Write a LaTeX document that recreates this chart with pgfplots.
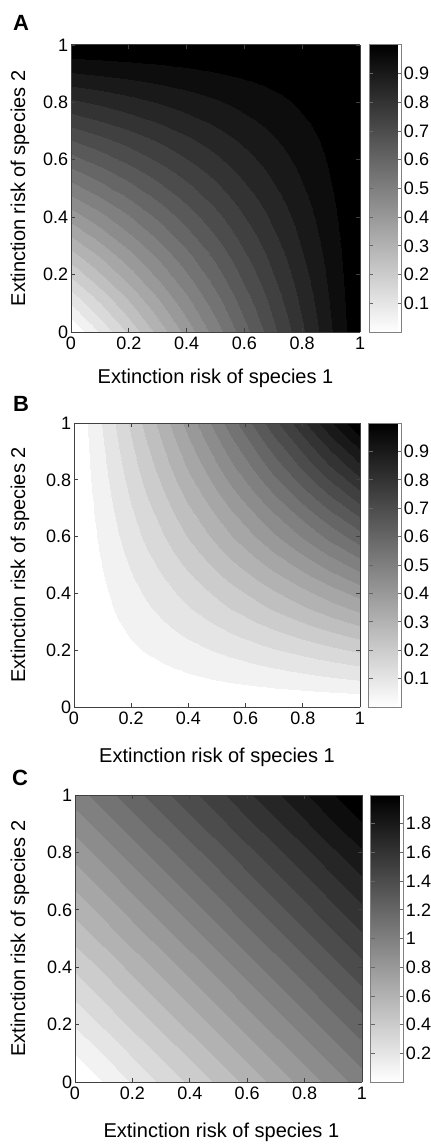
\documentclass[border=0pt]{standalone}
\usepackage{fontspec}
\setmainfont{Liberation Sans}
\usepackage{pgfplots}
\usepackage{pgfplotstable}
\pgfplotsset{compat=1.18}

% Panel C grid: x = risk of species 1, y = risk of species 2, z = value
\pgfplotstableread{
x y z
0 0 0
0.1 0 0.1
0.2 0 0.2
0.3 0 0.3
0.4 0 0.4
0.5 0 0.5
0.6 0 0.6
0.7 0 0.7
0.8 0 0.8
0.9 0 0.9
1 0 1
0 0.1 0.1
0.1 0.1 0.2
0.2 0.1 0.3
0.3 0.1 0.4
0.4 0.1 0.5
0.5 0.1 0.6
0.6 0.1 0.7
0.7 0.1 0.8
0.8 0.1 0.9
0.9 0.1 1.0
1 0.1 1.1
0 0.2 0.2
0.1 0.2 0.3
0.2 0.2 0.4
0.3 0.2 0.5
0.4 0.2 0.6
0.5 0.2 0.7
0.6 0.2 0.8
0.7 0.2 0.9
0.8 0.2 1.0
0.9 0.2 1.1
1 0.2 1.2
0 0.3 0.3
0.1 0.3 0.4
0.2 0.3 0.5
0.3 0.3 0.6
0.4 0.3 0.7
0.5 0.3 0.8
0.6 0.3 0.9
0.7 0.3 1.0
0.8 0.3 1.1
0.9 0.3 1.2
1 0.3 1.3
0 0.4 0.4
0.1 0.4 0.5
0.2 0.4 0.6
0.3 0.4 0.7
0.4 0.4 0.8
0.5 0.4 0.9
0.6 0.4 1.0
0.7 0.4 1.1
0.8 0.4 1.2
0.9 0.4 1.3
1 0.4 1.4
0 0.5 0.5
0.1 0.5 0.6
0.2 0.5 0.7
0.3 0.5 0.8
0.4 0.5 0.9
0.5 0.5 1.0
0.6 0.5 1.1
0.7 0.5 1.2
0.8 0.5 1.3
0.9 0.5 1.4
1 0.5 1.5
0 0.6 0.6
0.1 0.6 0.7
0.2 0.6 0.8
0.3 0.6 0.9
0.4 0.6 1.0
0.5 0.6 1.1
0.6 0.6 1.2
0.7 0.6 1.3
0.8 0.6 1.4
0.9 0.6 1.5
1 0.6 1.6
0 0.7 0.7
0.1 0.7 0.8
0.2 0.7 0.9
0.3 0.7 1.0
0.4 0.7 1.1
0.5 0.7 1.2
0.6 0.7 1.3
0.7 0.7 1.4
0.8 0.7 1.5
0.9 0.7 1.6
1 0.7 1.7
0 0.8 0.8
0.1 0.8 0.9
0.2 0.8 1.0
0.3 0.8 1.1
0.4 0.8 1.2
0.5 0.8 1.3
0.6 0.8 1.4
0.7 0.8 1.5
0.8 0.8 1.6
0.9 0.8 1.7
1 0.8 1.8
0 0.9 0.9
0.1 0.9 1.0
0.2 0.9 1.1
0.3 0.9 1.2
0.4 0.9 1.3
0.5 0.9 1.4
0.6 0.9 1.5
0.7 0.9 1.6
0.8 0.9 1.7
0.9 0.9 1.8
1 0.9 1.9
0 1 1.0
0.1 1 1.1
0.2 1 1.2
0.3 1 1.3
0.4 1 1.4
0.5 1 1.5
0.6 1 1.6
0.7 1 1.7
0.8 1 1.8
0.9 1 1.9
1 1 2.0
}\tabC

\pgfplotsset{
  panel/.style={
    scale only axis, view={0}{90},
    xmin=0, xmax=1, ymin=0, ymax=1,
    xtick={0,0.2,0.4,0.6,0.8,1}, ytick={0,0.2,0.4,0.6,0.8,1}, ztick=\empty,
    tick align=inside, major tick length=2pt,
    tick style={black!75, line width=0.4pt},
    axis line style={black!75, line width=0.5pt},
    /pgf/number format/assume math mode=true,
    tick label style={font=\fontsize{9}{10}\selectfont},
    yticklabel style={inner sep=1.2pt},
    xticklabel style={inner sep=2.5pt},
    label style={font=\fontsize{10.85}{13}\selectfont},
    xlabel={Extinction risk of species 1},
    ylabel={Extinction risk of species 2},
    colormap={cgray}{gray=(1) gray=(0.95) gray=(0.9) gray=(0.85) gray=(0.8)
      gray=(0.75) gray=(0.7) gray=(0.65) gray=(0.6) gray=(0.55) gray=(0.5)
      gray=(0.45) gray=(0.4) gray=(0.35) gray=(0.3) gray=(0.25) gray=(0.2)
      gray=(0.15) gray=(0.1) gray=(0.05) gray=(0)},
    colorbar,
    colorbar style={
      at={(parent axis.north east)}, anchor=north west, xshift=-4.04pt,
      width=16.5pt,
      axis line style={black!50, line width=0.5pt},
      tick align=inside, major tick length=2pt,
      tick style={black!60, line width=0.4pt},
      ytick pos=both, yticklabel pos=right,
      yticklabel style={inner sep=0.8pt, font=\fontsize{9}{10}\selectfont},
      /pgf/number format/assume math mode=true,
    },
  },
  surfplot/.style={surf, shader=interp, colormap access=piecewise constant},
}

\begin{document}
\begin{tikzpicture}
\useasboundingbox (0,0) rectangle (215pt,-572pt);

\node[font=\bfseries\fontsize{11}{13}\selectfont] at (10.5pt,-11.5pt) {A};
\node[font=\bfseries\fontsize{11}{13}\selectfont] at (10.5pt,-201.75pt) {B};
\node[font=\bfseries\fontsize{11}{13}\selectfont] at (10pt,-388.75pt) {C};

% Panel A
\begin{axis}[panel, at={(35.5pt,-22.5pt)}, anchor=north west,
  width=144.5pt, height=143.5pt,
  point meta min=0, point meta max=1,
  colorbar style={ytick={0.1,0.2,0.3,0.4,0.5,0.6,0.7,0.8,0.9}},
  every axis y label/.style={at={(axis description cs:-0.1765,0.5)}, rotate=90, anchor=center},
  every axis x label/.style={at={(axis description cs:0.5,-0.181)}, anchor=base},
]
\addplot3[surfplot, mesh/cols=21] coordinates {
(1,1,1) (0.95,1,1) (0.9,1,1) (0.85,1,1) (0.8,1,1) (0.75,1,1) (0.7,1,1) (0.65,1,1) (0.6,1,1) (0.55,1,1) (0.5,1,1) (0.45,1,1) (0.4,1,1) (0.35,1,1) (0.3,1,1) (0.25,1,1) (0.2,1,1) (0.15,1,1) (0.1,1,1) (0.05,1,1) (0,1,1)
(1,0.95,1) (0.95,0.95,0.9975) (0.9,0.95,0.995) (0.85,0.95,0.9925) (0.8,0.95,0.99) (0.75,0.95,0.9875) (0.7,0.95,0.985) (0.65,0.95,0.9825) (0.6,0.95,0.98) (0.55,0.95,0.9775) (0.5,0.95,0.975) (0.45,0.95,0.9725) (0.4,0.95,0.97) (0.35,0.95,0.9675) (0.3,0.95,0.965) (0.25,0.95,0.9625) (0.2,0.95,0.96) (0.15,0.95,0.9575) (0.1,0.95,0.955) (0.05,0.95,0.9525) (0,0.95,0.95)
(1,0.9,1) (0.95,0.9,0.995) (0.9,0.9,0.99) (0.85,0.9,0.985) (0.8,0.9,0.98) (0.75,0.9,0.975) (0.7,0.9,0.97) (0.65,0.9,0.965) (0.6,0.9,0.96) (0.55,0.9,0.955) (0.5,0.9,0.95) (0.45,0.9,0.945) (0.4,0.9,0.94) (0.35,0.9,0.935) (0.3,0.9,0.93) (0.25,0.9,0.925) (0.2,0.9,0.92) (0.15,0.9,0.915) (0.1,0.9,0.91) (0.05,0.9,0.905) (0,0.9,0.9)
(1,0.85,1) (0.95,0.85,0.9925) (0.9,0.85,0.985) (0.85,0.85,0.9775) (0.8,0.85,0.97) (0.75,0.85,0.9625) (0.7,0.85,0.955) (0.65,0.85,0.9475) (0.6,0.85,0.94) (0.55,0.85,0.9325) (0.5,0.85,0.925) (0.45,0.85,0.9175) (0.4,0.85,0.91) (0.35,0.85,0.9025) (0.3,0.85,0.895) (0.25,0.85,0.8875) (0.2,0.85,0.88) (0.15,0.85,0.8725) (0.1,0.85,0.865) (0.05,0.85,0.8575) (0,0.85,0.85)
(1,0.8,1) (0.95,0.8,0.99) (0.9,0.8,0.98) (0.85,0.8,0.97) (0.8,0.8,0.96) (0.75,0.8,0.95) (0.7,0.8,0.94) (0.65,0.8,0.93) (0.6,0.8,0.92) (0.55,0.8,0.91) (0.5,0.8,0.9) (0.45,0.8,0.89) (0.4,0.8,0.88) (0.35,0.8,0.87) (0.3,0.8,0.86) (0.25,0.8,0.85) (0.2,0.8,0.84) (0.15,0.8,0.83) (0.1,0.8,0.82) (0.05,0.8,0.81) (0,0.8,0.8)
(1,0.75,1) (0.95,0.75,0.9875) (0.9,0.75,0.975) (0.85,0.75,0.9625) (0.8,0.75,0.95) (0.75,0.75,0.9375) (0.7,0.75,0.925) (0.65,0.75,0.9125) (0.6,0.75,0.9) (0.55,0.75,0.8875) (0.5,0.75,0.875) (0.45,0.75,0.8625) (0.4,0.75,0.85) (0.35,0.75,0.8375) (0.3,0.75,0.825) (0.25,0.75,0.8125) (0.2,0.75,0.8) (0.15,0.75,0.7875) (0.1,0.75,0.775) (0.05,0.75,0.7625) (0,0.75,0.75)
(1,0.7,1) (0.95,0.7,0.985) (0.9,0.7,0.97) (0.85,0.7,0.955) (0.8,0.7,0.94) (0.75,0.7,0.925) (0.7,0.7,0.91) (0.65,0.7,0.895) (0.6,0.7,0.88) (0.55,0.7,0.865) (0.5,0.7,0.85) (0.45,0.7,0.835) (0.4,0.7,0.82) (0.35,0.7,0.805) (0.3,0.7,0.79) (0.25,0.7,0.775) (0.2,0.7,0.76) (0.15,0.7,0.745) (0.1,0.7,0.73) (0.05,0.7,0.715) (0,0.7,0.7)
(1,0.65,1) (0.95,0.65,0.9825) (0.9,0.65,0.965) (0.85,0.65,0.9475) (0.8,0.65,0.93) (0.75,0.65,0.9125) (0.7,0.65,0.895) (0.65,0.65,0.8775) (0.6,0.65,0.86) (0.55,0.65,0.8425) (0.5,0.65,0.825) (0.45,0.65,0.8075) (0.4,0.65,0.79) (0.35,0.65,0.7725) (0.3,0.65,0.755) (0.25,0.65,0.7375) (0.2,0.65,0.72) (0.15,0.65,0.7025) (0.1,0.65,0.685) (0.05,0.65,0.6675) (0,0.65,0.65)
(1,0.6,1) (0.95,0.6,0.98) (0.9,0.6,0.96) (0.85,0.6,0.94) (0.8,0.6,0.92) (0.75,0.6,0.9) (0.7,0.6,0.88) (0.65,0.6,0.86) (0.6,0.6,0.84) (0.55,0.6,0.82) (0.5,0.6,0.8) (0.45,0.6,0.78) (0.4,0.6,0.76) (0.35,0.6,0.74) (0.3,0.6,0.72) (0.25,0.6,0.7) (0.2,0.6,0.68) (0.15,0.6,0.66) (0.1,0.6,0.64) (0.05,0.6,0.62) (0,0.6,0.6)
(1,0.55,1) (0.95,0.55,0.9775) (0.9,0.55,0.955) (0.85,0.55,0.9325) (0.8,0.55,0.91) (0.75,0.55,0.8875) (0.7,0.55,0.865) (0.65,0.55,0.8425) (0.6,0.55,0.82) (0.55,0.55,0.7975) (0.5,0.55,0.775) (0.45,0.55,0.7525) (0.4,0.55,0.73) (0.35,0.55,0.7075) (0.3,0.55,0.685) (0.25,0.55,0.6625) (0.2,0.55,0.64) (0.15,0.55,0.6175) (0.1,0.55,0.595) (0.05,0.55,0.5725) (0,0.55,0.55)
(1,0.5,1) (0.95,0.5,0.975) (0.9,0.5,0.95) (0.85,0.5,0.925) (0.8,0.5,0.9) (0.75,0.5,0.875) (0.7,0.5,0.85) (0.65,0.5,0.825) (0.6,0.5,0.8) (0.55,0.5,0.775) (0.5,0.5,0.75) (0.45,0.5,0.725) (0.4,0.5,0.7) (0.35,0.5,0.675) (0.3,0.5,0.65) (0.25,0.5,0.625) (0.2,0.5,0.6) (0.15,0.5,0.575) (0.1,0.5,0.55) (0.05,0.5,0.525) (0,0.5,0.5)
(1,0.45,1) (0.95,0.45,0.9725) (0.9,0.45,0.945) (0.85,0.45,0.9175) (0.8,0.45,0.89) (0.75,0.45,0.8625) (0.7,0.45,0.835) (0.65,0.45,0.8075) (0.6,0.45,0.78) (0.55,0.45,0.7525) (0.5,0.45,0.725) (0.45,0.45,0.6975) (0.4,0.45,0.67) (0.35,0.45,0.6425) (0.3,0.45,0.615) (0.25,0.45,0.5875) (0.2,0.45,0.56) (0.15,0.45,0.5325) (0.1,0.45,0.505) (0.05,0.45,0.4775) (0,0.45,0.45)
(1,0.4,1) (0.95,0.4,0.97) (0.9,0.4,0.94) (0.85,0.4,0.91) (0.8,0.4,0.88) (0.75,0.4,0.85) (0.7,0.4,0.82) (0.65,0.4,0.79) (0.6,0.4,0.76) (0.55,0.4,0.73) (0.5,0.4,0.7) (0.45,0.4,0.67) (0.4,0.4,0.64) (0.35,0.4,0.61) (0.3,0.4,0.58) (0.25,0.4,0.55) (0.2,0.4,0.52) (0.15,0.4,0.49) (0.1,0.4,0.46) (0.05,0.4,0.43) (0,0.4,0.4)
(1,0.35,1) (0.95,0.35,0.9675) (0.9,0.35,0.935) (0.85,0.35,0.9025) (0.8,0.35,0.87) (0.75,0.35,0.8375) (0.7,0.35,0.805) (0.65,0.35,0.7725) (0.6,0.35,0.74) (0.55,0.35,0.7075) (0.5,0.35,0.675) (0.45,0.35,0.6425) (0.4,0.35,0.61) (0.35,0.35,0.5775) (0.3,0.35,0.545) (0.25,0.35,0.5125) (0.2,0.35,0.48) (0.15,0.35,0.4475) (0.1,0.35,0.415) (0.05,0.35,0.3825) (0,0.35,0.35)
(1,0.3,1) (0.95,0.3,0.965) (0.9,0.3,0.93) (0.85,0.3,0.895) (0.8,0.3,0.86) (0.75,0.3,0.825) (0.7,0.3,0.79) (0.65,0.3,0.755) (0.6,0.3,0.72) (0.55,0.3,0.685) (0.5,0.3,0.65) (0.45,0.3,0.615) (0.4,0.3,0.58) (0.35,0.3,0.545) (0.3,0.3,0.51) (0.25,0.3,0.475) (0.2,0.3,0.44) (0.15,0.3,0.405) (0.1,0.3,0.37) (0.05,0.3,0.335) (0,0.3,0.3)
(1,0.25,1) (0.95,0.25,0.9625) (0.9,0.25,0.925) (0.85,0.25,0.8875) (0.8,0.25,0.85) (0.75,0.25,0.8125) (0.7,0.25,0.775) (0.65,0.25,0.7375) (0.6,0.25,0.7) (0.55,0.25,0.6625) (0.5,0.25,0.625) (0.45,0.25,0.5875) (0.4,0.25,0.55) (0.35,0.25,0.5125) (0.3,0.25,0.475) (0.25,0.25,0.4375) (0.2,0.25,0.4) (0.15,0.25,0.3625) (0.1,0.25,0.325) (0.05,0.25,0.2875) (0,0.25,0.25)
(1,0.2,1) (0.95,0.2,0.96) (0.9,0.2,0.92) (0.85,0.2,0.88) (0.8,0.2,0.84) (0.75,0.2,0.8) (0.7,0.2,0.76) (0.65,0.2,0.72) (0.6,0.2,0.68) (0.55,0.2,0.64) (0.5,0.2,0.6) (0.45,0.2,0.56) (0.4,0.2,0.52) (0.35,0.2,0.48) (0.3,0.2,0.44) (0.25,0.2,0.4) (0.2,0.2,0.36) (0.15,0.2,0.32) (0.1,0.2,0.28) (0.05,0.2,0.24) (0,0.2,0.2)
(1,0.15,1) (0.95,0.15,0.9575) (0.9,0.15,0.915) (0.85,0.15,0.8725) (0.8,0.15,0.83) (0.75,0.15,0.7875) (0.7,0.15,0.745) (0.65,0.15,0.7025) (0.6,0.15,0.66) (0.55,0.15,0.6175) (0.5,0.15,0.575) (0.45,0.15,0.5325) (0.4,0.15,0.49) (0.35,0.15,0.4475) (0.3,0.15,0.405) (0.25,0.15,0.3625) (0.2,0.15,0.32) (0.15,0.15,0.2775) (0.1,0.15,0.235) (0.05,0.15,0.1925) (0,0.15,0.15)
(1,0.1,1) (0.95,0.1,0.955) (0.9,0.1,0.91) (0.85,0.1,0.865) (0.8,0.1,0.82) (0.75,0.1,0.775) (0.7,0.1,0.73) (0.65,0.1,0.685) (0.6,0.1,0.64) (0.55,0.1,0.595) (0.5,0.1,0.55) (0.45,0.1,0.505) (0.4,0.1,0.46) (0.35,0.1,0.415) (0.3,0.1,0.37) (0.25,0.1,0.325) (0.2,0.1,0.28) (0.15,0.1,0.235) (0.1,0.1,0.19) (0.05,0.1,0.145) (0,0.1,0.1)
(1,0.05,1) (0.95,0.05,0.9525) (0.9,0.05,0.905) (0.85,0.05,0.8575) (0.8,0.05,0.81) (0.75,0.05,0.7625) (0.7,0.05,0.715) (0.65,0.05,0.6675) (0.6,0.05,0.62) (0.55,0.05,0.5725) (0.5,0.05,0.525) (0.45,0.05,0.4775) (0.4,0.05,0.43) (0.35,0.05,0.3825) (0.3,0.05,0.335) (0.25,0.05,0.2875) (0.2,0.05,0.24) (0.15,0.05,0.1925) (0.1,0.05,0.145) (0.05,0.05,0.0975) (0,0.05,0.05)
(1,0,1) (0.95,0,0.95) (0.9,0,0.9) (0.85,0,0.85) (0.8,0,0.8) (0.75,0,0.75) (0.7,0,0.7) (0.65,0,0.65) (0.6,0,0.6) (0.55,0,0.55) (0.5,0,0.5) (0.45,0,0.45) (0.4,0,0.4) (0.35,0,0.35) (0.3,0,0.3) (0.25,0,0.25) (0.2,0,0.2) (0.15,0,0.15) (0.1,0,0.1) (0.05,0,0.05) (0,0,0)
};
\end{axis}

% Panel B
\begin{axis}[panel, at={(37pt,-211.5pt)}, anchor=north west,
  width=143pt, height=142pt,
  point meta min=0, point meta max=1,
  colorbar style={ytick={0.1,0.2,0.3,0.4,0.5,0.6,0.7,0.8,0.9}},
  every axis y label/.style={at={(axis description cs:-0.1888,0.5)}, rotate=90, anchor=center},
  every axis x label/.style={at={(axis description cs:0.5,-0.197)}, anchor=base},
]
\addplot3[surfplot, mesh/cols=21] coordinates {
(0,0,0) (0.05,0,0) (0.1,0,0) (0.15,0,0) (0.2,0,0) (0.25,0,0) (0.3,0,0) (0.35,0,0) (0.4,0,0) (0.45,0,0) (0.5,0,0) (0.55,0,0) (0.6,0,0) (0.65,0,0) (0.7,0,0) (0.75,0,0) (0.8,0,0) (0.85,0,0) (0.9,0,0) (0.95,0,0) (1,0,0)
(0,0.05,0) (0.05,0.05,0.0025) (0.1,0.05,0.005) (0.15,0.05,0.0075) (0.2,0.05,0.01) (0.25,0.05,0.0125) (0.3,0.05,0.015) (0.35,0.05,0.0175) (0.4,0.05,0.02) (0.45,0.05,0.0225) (0.5,0.05,0.025) (0.55,0.05,0.0275) (0.6,0.05,0.03) (0.65,0.05,0.0325) (0.7,0.05,0.035) (0.75,0.05,0.0375) (0.8,0.05,0.04) (0.85,0.05,0.0425) (0.9,0.05,0.045) (0.95,0.05,0.0475) (1,0.05,0.05)
(0,0.1,0) (0.05,0.1,0.005) (0.1,0.1,0.01) (0.15,0.1,0.015) (0.2,0.1,0.02) (0.25,0.1,0.025) (0.3,0.1,0.03) (0.35,0.1,0.035) (0.4,0.1,0.04) (0.45,0.1,0.045) (0.5,0.1,0.05) (0.55,0.1,0.055) (0.6,0.1,0.06) (0.65,0.1,0.065) (0.7,0.1,0.07) (0.75,0.1,0.075) (0.8,0.1,0.08) (0.85,0.1,0.085) (0.9,0.1,0.09) (0.95,0.1,0.095) (1,0.1,0.1)
(0,0.15,0) (0.05,0.15,0.0075) (0.1,0.15,0.015) (0.15,0.15,0.0225) (0.2,0.15,0.03) (0.25,0.15,0.0375) (0.3,0.15,0.045) (0.35,0.15,0.0525) (0.4,0.15,0.06) (0.45,0.15,0.0675) (0.5,0.15,0.075) (0.55,0.15,0.0825) (0.6,0.15,0.09) (0.65,0.15,0.0975) (0.7,0.15,0.105) (0.75,0.15,0.1125) (0.8,0.15,0.12) (0.85,0.15,0.1275) (0.9,0.15,0.135) (0.95,0.15,0.1425) (1,0.15,0.15)
(0,0.2,0) (0.05,0.2,0.01) (0.1,0.2,0.02) (0.15,0.2,0.03) (0.2,0.2,0.04) (0.25,0.2,0.05) (0.3,0.2,0.06) (0.35,0.2,0.07) (0.4,0.2,0.08) (0.45,0.2,0.09) (0.5,0.2,0.1) (0.55,0.2,0.11) (0.6,0.2,0.12) (0.65,0.2,0.13) (0.7,0.2,0.14) (0.75,0.2,0.15) (0.8,0.2,0.16) (0.85,0.2,0.17) (0.9,0.2,0.18) (0.95,0.2,0.19) (1,0.2,0.2)
(0,0.25,0) (0.05,0.25,0.0125) (0.1,0.25,0.025) (0.15,0.25,0.0375) (0.2,0.25,0.05) (0.25,0.25,0.0625) (0.3,0.25,0.075) (0.35,0.25,0.0875) (0.4,0.25,0.1) (0.45,0.25,0.1125) (0.5,0.25,0.125) (0.55,0.25,0.1375) (0.6,0.25,0.15) (0.65,0.25,0.1625) (0.7,0.25,0.175) (0.75,0.25,0.1875) (0.8,0.25,0.2) (0.85,0.25,0.2125) (0.9,0.25,0.225) (0.95,0.25,0.2375) (1,0.25,0.25)
(0,0.3,0) (0.05,0.3,0.015) (0.1,0.3,0.03) (0.15,0.3,0.045) (0.2,0.3,0.06) (0.25,0.3,0.075) (0.3,0.3,0.09) (0.35,0.3,0.105) (0.4,0.3,0.12) (0.45,0.3,0.135) (0.5,0.3,0.15) (0.55,0.3,0.165) (0.6,0.3,0.18) (0.65,0.3,0.195) (0.7,0.3,0.21) (0.75,0.3,0.225) (0.8,0.3,0.24) (0.85,0.3,0.255) (0.9,0.3,0.27) (0.95,0.3,0.285) (1,0.3,0.3)
(0,0.35,0) (0.05,0.35,0.0175) (0.1,0.35,0.035) (0.15,0.35,0.0525) (0.2,0.35,0.07) (0.25,0.35,0.0875) (0.3,0.35,0.105) (0.35,0.35,0.1225) (0.4,0.35,0.14) (0.45,0.35,0.1575) (0.5,0.35,0.175) (0.55,0.35,0.1925) (0.6,0.35,0.21) (0.65,0.35,0.2275) (0.7,0.35,0.245) (0.75,0.35,0.2625) (0.8,0.35,0.28) (0.85,0.35,0.2975) (0.9,0.35,0.315) (0.95,0.35,0.3325) (1,0.35,0.35)
(0,0.4,0) (0.05,0.4,0.02) (0.1,0.4,0.04) (0.15,0.4,0.06) (0.2,0.4,0.08) (0.25,0.4,0.1) (0.3,0.4,0.12) (0.35,0.4,0.14) (0.4,0.4,0.16) (0.45,0.4,0.18) (0.5,0.4,0.2) (0.55,0.4,0.22) (0.6,0.4,0.24) (0.65,0.4,0.26) (0.7,0.4,0.28) (0.75,0.4,0.3) (0.8,0.4,0.32) (0.85,0.4,0.34) (0.9,0.4,0.36) (0.95,0.4,0.38) (1,0.4,0.4)
(0,0.45,0) (0.05,0.45,0.0225) (0.1,0.45,0.045) (0.15,0.45,0.0675) (0.2,0.45,0.09) (0.25,0.45,0.1125) (0.3,0.45,0.135) (0.35,0.45,0.1575) (0.4,0.45,0.18) (0.45,0.45,0.2025) (0.5,0.45,0.225) (0.55,0.45,0.2475) (0.6,0.45,0.27) (0.65,0.45,0.2925) (0.7,0.45,0.315) (0.75,0.45,0.3375) (0.8,0.45,0.36) (0.85,0.45,0.3825) (0.9,0.45,0.405) (0.95,0.45,0.4275) (1,0.45,0.45)
(0,0.5,0) (0.05,0.5,0.025) (0.1,0.5,0.05) (0.15,0.5,0.075) (0.2,0.5,0.1) (0.25,0.5,0.125) (0.3,0.5,0.15) (0.35,0.5,0.175) (0.4,0.5,0.2) (0.45,0.5,0.225) (0.5,0.5,0.25) (0.55,0.5,0.275) (0.6,0.5,0.3) (0.65,0.5,0.325) (0.7,0.5,0.35) (0.75,0.5,0.375) (0.8,0.5,0.4) (0.85,0.5,0.425) (0.9,0.5,0.45) (0.95,0.5,0.475) (1,0.5,0.5)
(0,0.55,0) (0.05,0.55,0.0275) (0.1,0.55,0.055) (0.15,0.55,0.0825) (0.2,0.55,0.11) (0.25,0.55,0.1375) (0.3,0.55,0.165) (0.35,0.55,0.1925) (0.4,0.55,0.22) (0.45,0.55,0.2475) (0.5,0.55,0.275) (0.55,0.55,0.3025) (0.6,0.55,0.33) (0.65,0.55,0.3575) (0.7,0.55,0.385) (0.75,0.55,0.4125) (0.8,0.55,0.44) (0.85,0.55,0.4675) (0.9,0.55,0.495) (0.95,0.55,0.5225) (1,0.55,0.55)
(0,0.6,0) (0.05,0.6,0.03) (0.1,0.6,0.06) (0.15,0.6,0.09) (0.2,0.6,0.12) (0.25,0.6,0.15) (0.3,0.6,0.18) (0.35,0.6,0.21) (0.4,0.6,0.24) (0.45,0.6,0.27) (0.5,0.6,0.3) (0.55,0.6,0.33) (0.6,0.6,0.36) (0.65,0.6,0.39) (0.7,0.6,0.42) (0.75,0.6,0.45) (0.8,0.6,0.48) (0.85,0.6,0.51) (0.9,0.6,0.54) (0.95,0.6,0.57) (1,0.6,0.6)
(0,0.65,0) (0.05,0.65,0.0325) (0.1,0.65,0.065) (0.15,0.65,0.0975) (0.2,0.65,0.13) (0.25,0.65,0.1625) (0.3,0.65,0.195) (0.35,0.65,0.2275) (0.4,0.65,0.26) (0.45,0.65,0.2925) (0.5,0.65,0.325) (0.55,0.65,0.3575) (0.6,0.65,0.39) (0.65,0.65,0.4225) (0.7,0.65,0.455) (0.75,0.65,0.4875) (0.8,0.65,0.52) (0.85,0.65,0.5525) (0.9,0.65,0.585) (0.95,0.65,0.6175) (1,0.65,0.65)
(0,0.7,0) (0.05,0.7,0.035) (0.1,0.7,0.07) (0.15,0.7,0.105) (0.2,0.7,0.14) (0.25,0.7,0.175) (0.3,0.7,0.21) (0.35,0.7,0.245) (0.4,0.7,0.28) (0.45,0.7,0.315) (0.5,0.7,0.35) (0.55,0.7,0.385) (0.6,0.7,0.42) (0.65,0.7,0.455) (0.7,0.7,0.49) (0.75,0.7,0.525) (0.8,0.7,0.56) (0.85,0.7,0.595) (0.9,0.7,0.63) (0.95,0.7,0.665) (1,0.7,0.7)
(0,0.75,0) (0.05,0.75,0.0375) (0.1,0.75,0.075) (0.15,0.75,0.1125) (0.2,0.75,0.15) (0.25,0.75,0.1875) (0.3,0.75,0.225) (0.35,0.75,0.2625) (0.4,0.75,0.3) (0.45,0.75,0.3375) (0.5,0.75,0.375) (0.55,0.75,0.4125) (0.6,0.75,0.45) (0.65,0.75,0.4875) (0.7,0.75,0.525) (0.75,0.75,0.5625) (0.8,0.75,0.6) (0.85,0.75,0.6375) (0.9,0.75,0.675) (0.95,0.75,0.7125) (1,0.75,0.75)
(0,0.8,0) (0.05,0.8,0.04) (0.1,0.8,0.08) (0.15,0.8,0.12) (0.2,0.8,0.16) (0.25,0.8,0.2) (0.3,0.8,0.24) (0.35,0.8,0.28) (0.4,0.8,0.32) (0.45,0.8,0.36) (0.5,0.8,0.4) (0.55,0.8,0.44) (0.6,0.8,0.48) (0.65,0.8,0.52) (0.7,0.8,0.56) (0.75,0.8,0.6) (0.8,0.8,0.64) (0.85,0.8,0.68) (0.9,0.8,0.72) (0.95,0.8,0.76) (1,0.8,0.8)
(0,0.85,0) (0.05,0.85,0.0425) (0.1,0.85,0.085) (0.15,0.85,0.1275) (0.2,0.85,0.17) (0.25,0.85,0.2125) (0.3,0.85,0.255) (0.35,0.85,0.2975) (0.4,0.85,0.34) (0.45,0.85,0.3825) (0.5,0.85,0.425) (0.55,0.85,0.4675) (0.6,0.85,0.51) (0.65,0.85,0.5525) (0.7,0.85,0.595) (0.75,0.85,0.6375) (0.8,0.85,0.68) (0.85,0.85,0.7225) (0.9,0.85,0.765) (0.95,0.85,0.8075) (1,0.85,0.85)
(0,0.9,0) (0.05,0.9,0.045) (0.1,0.9,0.09) (0.15,0.9,0.135) (0.2,0.9,0.18) (0.25,0.9,0.225) (0.3,0.9,0.27) (0.35,0.9,0.315) (0.4,0.9,0.36) (0.45,0.9,0.405) (0.5,0.9,0.45) (0.55,0.9,0.495) (0.6,0.9,0.54) (0.65,0.9,0.585) (0.7,0.9,0.63) (0.75,0.9,0.675) (0.8,0.9,0.72) (0.85,0.9,0.765) (0.9,0.9,0.81) (0.95,0.9,0.855) (1,0.9,0.9)
(0,0.95,0) (0.05,0.95,0.0475) (0.1,0.95,0.095) (0.15,0.95,0.1425) (0.2,0.95,0.19) (0.25,0.95,0.2375) (0.3,0.95,0.285) (0.35,0.95,0.3325) (0.4,0.95,0.38) (0.45,0.95,0.4275) (0.5,0.95,0.475) (0.55,0.95,0.5225) (0.6,0.95,0.57) (0.65,0.95,0.6175) (0.7,0.95,0.665) (0.75,0.95,0.7125) (0.8,0.95,0.76) (0.85,0.95,0.8075) (0.9,0.95,0.855) (0.95,0.95,0.9025) (1,0.95,0.95)
(0,1,0) (0.05,1,0.05) (0.1,1,0.1) (0.15,1,0.15) (0.2,1,0.2) (0.25,1,0.25) (0.3,1,0.3) (0.35,1,0.35) (0.4,1,0.4) (0.45,1,0.45) (0.5,1,0.5) (0.55,1,0.55) (0.6,1,0.6) (0.65,1,0.65) (0.7,1,0.7) (0.75,1,0.75) (0.8,1,0.8) (0.85,1,0.85) (0.9,1,0.9) (0.95,1,0.95) (1,1,1)
};
\end{axis}

% Panel C
\begin{axis}[panel, at={(37.5pt,-397.5pt)}, anchor=north west,
  width=143.5pt, height=143.5pt,
  point meta min=0, point meta max=2,
  colorbar style={ytick={0.2,0.4,0.6,0.8,1,1.2,1.4,1.6,1.8}},
  every axis y label/.style={at={(axis description cs:-0.1916,0.5)}, rotate=90, anchor=center},
  every axis x label/.style={at={(axis description cs:0.51,-0.192)}, anchor=base},
]
\addplot3[surfplot, mesh/cols=11] table[x=x, y=y, z=z] {\tabC};
\end{axis}
\end{tikzpicture}
\end{document}
